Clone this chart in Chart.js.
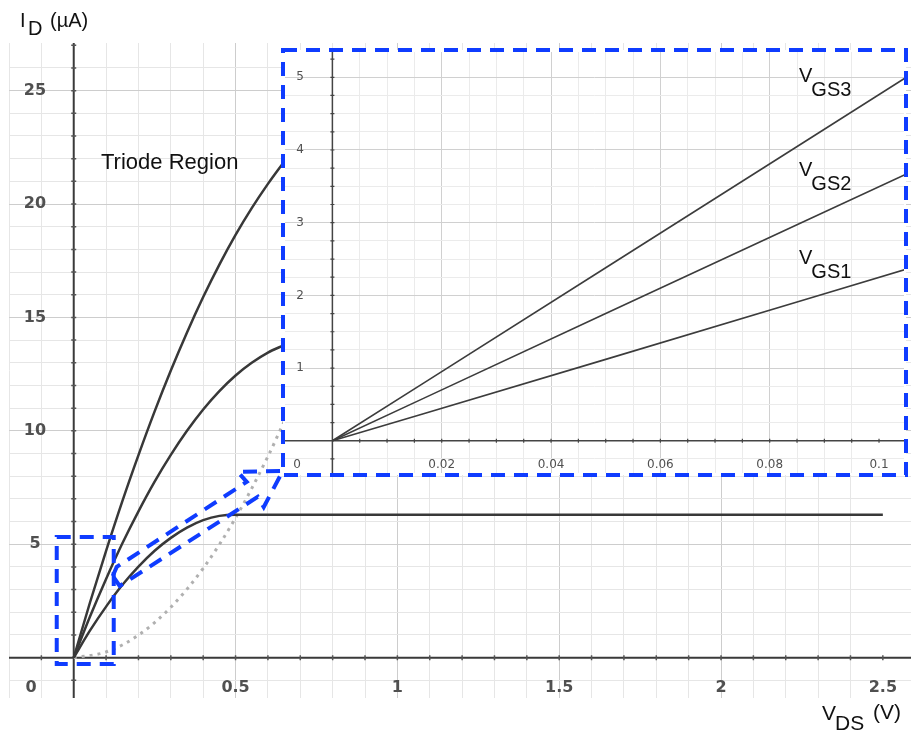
<!DOCTYPE html>
<html>
<head>
<meta charset="utf-8">
<script src="https://cdn.jsdelivr.net/npm/chart.js@4.4.1/dist/chart.umd.min.js"></script>
<style>
  body { margin: 0; background: #fff; }
  #wrap { position: relative; width: 911px; height: 738px; }
  #main { position: absolute; left: 0; top: 0; }
  #zoom { position: absolute; left: 281px; top: 48px; }
</style>
</head>
<body>
<div id="wrap">
  <canvas id="main" width="911" height="738"></canvas>
  <canvas id="zoom" width="628" height="430"></canvas>
</div>
<script>
// ---- main plot: VDS (V) vs ID (uA) ----
var vdsTriode = [0, 0.05, 0.1, 0.15, 0.2, 0.25, 0.3, 0.35, 0.4, 0.45, 0.5, 0.55, 0.6, 0.65];
var idVgs3 = [0, 2.42, 4.71, 6.89, 8.93, 10.86, 12.66, 14.34, 15.9, 17.33, 18.64, 19.82, 20.89, 21.87];
var idVgs2 = [0, 1.8, 3.47, 5.03, 6.45, 7.76, 8.94, 10.0, 10.94, 11.75, 12.44, 13.0, 13.45, 13.78];
var vdsVgs1 = [0, 0.05, 0.1, 0.15, 0.2, 0.25, 0.3, 0.35, 0.4, 0.45, 0.5, 2.5];
var idVgs1 = [0, 1.19, 2.25, 3.2, 4.01, 4.71, 5.28, 5.73, 6.06, 6.25, 6.3, 6.3];
// saturation edge (dotted)
var vdsEdge = [0, 0.1, 0.2, 0.3, 0.4, 0.5, 0.6, 0.65];
var idEdge = [0, 0.25, 0.99, 2.22, 3.94, 6.16, 8.87, 10.41];

var xTickLabels = [0.5, 1, 1.5, 2, 2.5];
var yTickLabels = [5, 10, 15, 20, 25];

// ---- zoomed inset ----
var vdsZoom = [0, 0.05, 0.105];
var zoomVgs3 = [0, 2.38, 5.0];
var zoomVgs2 = [0, 1.75, 3.67];
var zoomVgs1 = [0, 1.12, 2.36];
var zoomXLabels = [0.02, 0.04, 0.06, 0.08, 0.1];
var zoomYLabels = [1, 2, 3, 4, 5];

// blue dashed marks, in main plot units
var boxX = [-0.0525, 0.1236];
var boxY = [-0.28, 5.32];
var arrowX = [0.1205, 0.1329, 0.5346, 0.5068, 0.6459, 0.5871, 0.5686, 0.1421];
var arrowY = [3.60, 4.0, 7.75, 8.19, 8.23, 6.64, 7.09, 3.16];

var BLUE = '#0f3cff';
var TICKFONT = 'bold 16px "DejaVu Sans"';

function pts(xs, ys) {
  return xs.map(function(x, i) { return { x: x, y: ys[i] }; });
}

function gridColor(step, major, cMajor, cMinor) {
  return function(c) {
    var v = c.tick.value;
    var r = v / major;
    if (Math.abs(r - Math.round(r)) < 1e-6) return cMajor;
    r = v / step;
    if (Math.abs(r - Math.round(r)) < 1e-6) return cMinor;
    return 'rgba(0,0,0,0)';
  };
}

function subText(ctx, base, sub, x, y, dy, font) {
  ctx.font = font;
  ctx.fillText(base, x, y);
  var w = ctx.measureText(base).width;
  ctx.fillText(sub, x + w - 1, y + dy);
}

function curve(data, color, width, dash) {
  return {
    data: data,
    borderColor: color,
    borderWidth: width,
    borderDash: dash || [],
    pointRadius: 0,
    fill: false,
    tension: 0.4,
    cubicInterpolationMode: 'monotone'
  };
}

// Start main plugin
var mainDeco = {
  id: 'mainDeco',
  beforeDatasetsDraw: function(chart) {
    var ctx = chart.ctx, xs = chart.scales.x, ys = chart.scales.y, a = chart.chartArea;
    var x0 = xs.getPixelForValue(0), y0 = ys.getPixelForValue(0);
    ctx.save();
    ctx.strokeStyle = '#3a3a3a';
    ctx.lineWidth = 2;
    ctx.beginPath();
    ctx.moveTo(a.left, y0); ctx.lineTo(a.right, y0);
    ctx.moveTo(x0, a.top); ctx.lineTo(x0, a.bottom);
    ctx.stroke();
    ctx.strokeStyle = '#555';
    ctx.lineWidth = 1.5;
    ctx.beginPath();
    for (var i = -1; i <= 25; i++) {
      if (i == 0) continue;
      var px = xs.getPixelForValue(i / 10);
      ctx.moveTo(px, y0 - 2.5); ctx.lineTo(px, y0 + 2.5);
    }
    for (var j = -1; j <= 27; j++) {
      if (j == 0) continue;
      var py = ys.getPixelForValue(j);
      ctx.moveTo(x0 - 2.5, py); ctx.lineTo(x0 + 2.5, py);
    }
    ctx.stroke();
    ctx.restore();
  },
  afterDatasetsDraw: function(chart) {
    var ctx = chart.ctx, xs = chart.scales.x, ys = chart.scales.y;
    ctx.save();
    // tick labels
    ctx.fillStyle = '#505050';
    ctx.font = TICKFONT;
    ctx.textAlign = 'center';
    ctx.textBaseline = 'middle';
    yTickLabels.forEach(function(v) { ctx.fillText(String(v), 35, ys.getPixelForValue(v)); });
    xTickLabels.forEach(function(v) { ctx.fillText(String(v), xs.getPixelForValue(v), 688); });
    ctx.fillText('0', 31, 688);

    // blue dashed marks
    ctx.strokeStyle = BLUE;
    ctx.lineWidth = 4;
    ctx.setLineDash([14, 9]);
    var bx0 = xs.getPixelForValue(boxX[0]), bx1 = xs.getPixelForValue(boxX[1]);
    var by0 = ys.getPixelForValue(boxY[1]), by1 = ys.getPixelForValue(boxY[0]);
    ctx.strokeRect(bx0, by0, bx1 - bx0, by1 - by0);
    ctx.beginPath();
    arrowX.forEach(function(v, i) {
      var px = xs.getPixelForValue(v), py = ys.getPixelForValue(arrowY[i]);
      if (i == 0) ctx.moveTo(px, py); else ctx.lineTo(px, py);
    });
    ctx.closePath();
    ctx.stroke();
    ctx.setLineDash([]);

    // texts
    ctx.fillStyle = '#111';
    ctx.textAlign = 'left';
    ctx.textBaseline = 'alphabetic';
    ctx.font = '22px "Liberation Sans", Arial';
    ctx.fillText('Triode Region', 101, 169);
    ctx.font = '20px "Liberation Sans", Arial';
    ctx.fillText('I', 20, 27);
    ctx.fillText('D', 28, 35);
    ctx.fillText('(\u00b5A)', 50, 27);
    ctx.font = '21px "Liberation Sans", Arial';
    ctx.fillText('V', 822, 720);
    ctx.fillText('DS', 835, 730);
    ctx.fillText('(V)', 873, 719);
    ctx.restore();
  }
};
// End main plugin

new Chart(document.getElementById('main'), {
  type: 'line',
  data: {
    datasets: [
      curve(pts(vdsTriode, idVgs3), '#383838', 2.5),
      curve(pts(vdsTriode, idVgs2), '#383838', 2.5),
      curve(pts(vdsVgs1, idVgs1), '#383838', 2.5),
      curve(pts(vdsEdge, idEdge), '#b0b0b0', 3, [3, 5])
    ]
  },
  options: {
    responsive: false,
    animation: false,
    layout: { padding: { left: 9, top: 43, right: 0, bottom: 40 } },
    plugins: { legend: { display: false }, tooltip: { enabled: false } },
    scales: {
      x: {
        type: 'linear', min: -0.2, max: 2.587,
        ticks: { display: false, stepSize: 0.1 },
        grid: { color: gridColor(0.1, 0.5, '#cdcdcd', '#e6e6e6'), drawTicks: false },
        border: { display: false }
      },
      y: {
        type: 'linear', min: -1.78, max: 27.1,
        ticks: { display: false, stepSize: 1 },
        grid: { color: gridColor(1, 5, '#cdcdcd', '#e6e6e6'), drawTicks: false },
        border: { display: false }
      }
    }
  },
  plugins: [mainDeco]
});

// Start inset plugin
var zoomDeco = {
  id: 'zoomDeco',
  beforeDraw: function(chart) {
    var ctx = chart.ctx;
    ctx.save();
    ctx.fillStyle = '#fff';
    ctx.fillRect(2, 2, 623, 425);
    ctx.restore();
  },
  beforeDatasetsDraw: function(chart) {
    var ctx = chart.ctx, xs = chart.scales.x, ys = chart.scales.y, a = chart.chartArea;
    var x0 = xs.getPixelForValue(0), y0 = ys.getPixelForValue(0);
    ctx.save();
    ctx.strokeStyle = '#444';
    ctx.lineWidth = 1.5;
    ctx.beginPath();
    ctx.moveTo(a.left, y0); ctx.lineTo(a.right, y0);
    ctx.moveTo(x0, a.top); ctx.lineTo(x0, a.bottom);
    ctx.stroke();
    ctx.lineWidth = 1.2;
    ctx.beginPath();
    for (var i = 1; i <= 20; i++) {
      var px = xs.getPixelForValue(i * 0.005);
      ctx.moveTo(px, y0 - 2); ctx.lineTo(px, y0 + 2);
    }
    for (var j = -1; j <= 21; j++) {
      if (j == 0) continue;
      var py = ys.getPixelForValue(j * 0.25);
      ctx.moveTo(x0 - 2, py); ctx.lineTo(x0 + 2, py);
    }
    ctx.stroke();
    ctx.restore();
  },
  afterDatasetsDraw: function(chart) {
    var ctx = chart.ctx, xs = chart.scales.x, ys = chart.scales.y;
    ctx.save();
    ctx.fillStyle = '#505050';
    ctx.font = '12px "DejaVu Sans"';
    ctx.textAlign = 'center';
    ctx.textBaseline = 'middle';
    zoomYLabels.forEach(function(v) { ctx.fillText(String(v), 19, ys.getPixelForValue(v)); });
    zoomXLabels.forEach(function(v) { ctx.fillText(String(v), xs.getPixelForValue(v), 417); });
    ctx.fillText('0', 16, 417);

    ctx.fillStyle = '#111';
    ctx.textAlign = 'left';
    ctx.textBaseline = 'alphabetic';
    subText(ctx, 'V', 'GS3', 518, 34, 14, '20px "Liberation Sans", Arial');
    subText(ctx, 'V', 'GS2', 518, 127.5, 14, '20px "Liberation Sans", Arial');
    subText(ctx, 'V', 'GS1', 518, 216, 14, '20px "Liberation Sans", Arial');

    ctx.strokeStyle = BLUE;
    ctx.lineWidth = 4;
    ctx.setLineDash([14, 9]);
    ctx.strokeRect(2, 2, 623, 425);
    ctx.restore();
  }
};
// End inset plugin

new Chart(document.getElementById('zoom'), {
  type: 'line',
  data: {
    datasets: [
      curve(pts(vdsZoom, zoomVgs3), '#3c3c3c', 1.6),
      curve(pts(vdsZoom, zoomVgs2), '#3c3c3c', 1.6),
      curve(pts(vdsZoom, zoomVgs1), '#3c3c3c', 1.6)
    ]
  },
  options: {
    responsive: false,
    animation: false,
    layout: { padding: { left: 4, top: 4, right: 5, bottom: 5 } },
    plugins: { legend: { display: false }, tooltip: { enabled: false } },
    scales: {
      x: {
        type: 'linear', min: -0.00867, max: 0.10457,
        ticks: { display: false, stepSize: 0.005 },
        grid: { color: gridColor(0.005, 0.02, '#d0d0d0', '#ebebeb'), drawTicks: false },
        border: { display: false }
      },
      y: {
        type: 'linear', min: -0.443, max: 5.348,
        ticks: { display: false, stepSize: 0.25 },
        grid: { color: gridColor(0.25, 1, '#d0d0d0', '#ebebeb'), drawTicks: false },
        border: { display: false }
      }
    }
  },
  plugins: [zoomDeco]
});
</script>
</body>
</html>
